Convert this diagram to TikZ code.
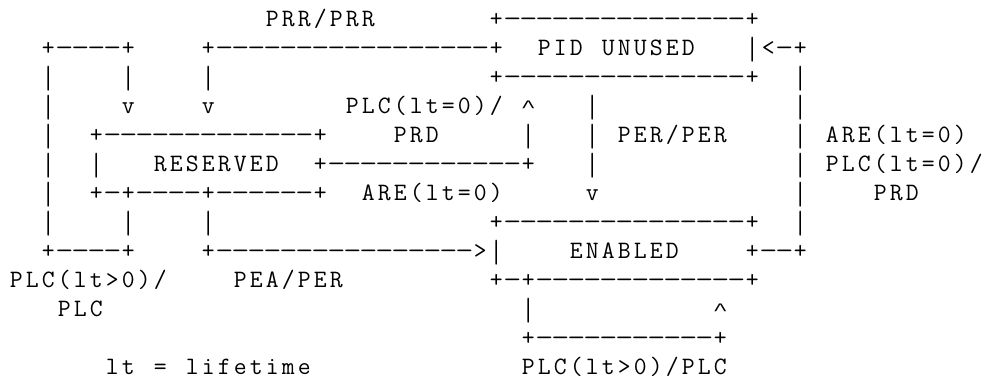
\documentclass[tikz,border=0pt]{standalone}
\usepackage{graphicx}
\usepackage{fontspec}
\newfontfamily\caretfont{Liberation Mono}
\makeatletter
\def\ce@bar{|}
\def\ce@dash{-}
\def\ce@caret{\textasciicircum}
\newcommand\ceglyph{%
  \ifx\ce@tok\ce@bar
    \raisebox{-6.3pt}{\resizebox*{\width}{25pt}{\raisebox{\depth}{|}}}%
  \else\ifx\ce@tok\ce@dash
    \scalebox{1.4}[1]{-}%
  \else\ifx\ce@tok\ce@caret
    \raisebox{1.5pt}{\scalebox{1}[0.7]{\caretfont\textasciicircum}}%
  \else
    \ce@tok
  \fi\fi\fi}
\newcommand\cells[1]{\@tfor\ce@tok:=#1\do{\hbox to 16pt{\hss\ceglyph\hss}}}
\makeatother
\begin{document}
\begin{tikzpicture}[x=16pt,y=-29pt,
  asc/.style={anchor=base west,inner sep=0pt,outer sep=0pt,
    font=\fontsize{25}{29}\selectfont\ttfamily}]
\useasboundingbox[fill=white] (0pt,0pt) rectangle (982pt,385pt);
\begin{scope}[shift={(8.3pt,387.3pt)}]
% row 1
\node[asc] (r1a) at (16,1) {\cells{PRR/PRR}};
\node[asc] (r1b) at (30,1) {\cells{+---------------+}};
% row 2
\node[asc] (r2a) at (2,2) {\cells{+----+}};
\node[asc] (r2b) at (12,2) {\cells{+-----------------+}};
\node[asc] (r2c) at (33,2) {\cells{PID}};
\node[asc] (r2d) at (37,2) {\cells{UNUSED}};
\node[asc] (r2e) at (46,2) {\cells{|<-+}};
% row 3
\node[asc] (r3a) at (2,3) {\cells{|}};
\node[asc] (r3b) at (7,3) {\cells{|}};
\node[asc] (r3c) at (12,3) {\cells{|}};
\node[asc] (r3d) at (30,3) {\cells{+---------------+}};
\node[asc] (r3e) at (49,3) {\cells{|}};
% row 4
\node[asc] (r4a) at (2,4) {\cells{|}};
\node[asc] (r4b) at (7,4) {\cells{v}};
\node[asc] (r4c) at (12,4) {\cells{v}};
\node[asc] (r4d) at (21,4) {\cells{PLC(lt=0)/}};
\node[asc] (r4e) at (32,4) {\cells{\textasciicircum}};
\node[asc] (r4f) at (36,4) {\cells{|}};
\node[asc] (r4g) at (49,4) {\cells{|}};
% row 5
\node[asc] (r5a) at (2,5) {\cells{|}};
\node[asc] (r5b) at (5,5) {\cells{+-------------+}};
\node[asc] (r5c) at (24,5) {\cells{PRD}};
\node[asc] (r5d) at (32,5) {\cells{|}};
\node[asc] (r5e) at (36,5) {\cells{|}};
\node[asc] (r5f) at (38,5) {\cells{PER/PER}};
\node[asc] (r5g) at (49,5) {\cells{|}};
\node[asc] (r5h) at (51,5) {\cells{ARE(lt=0)}};
% row 6
\node[asc] (r6a) at (2,6) {\cells{|}};
\node[asc] (r6b) at (5,6) {\cells{|}};
\node[asc] (r6c) at (9,6) {\cells{RESERVED}};
\node[asc] (r6d) at (19,6) {\cells{+------------+}};
\node[asc] (r6e) at (36,6) {\cells{|}};
\node[asc] (r6f) at (49,6) {\cells{|}};
\node[asc] (r6g) at (51,6) {\cells{PLC(lt=0)/}};
% row 7
\node[asc] (r7a) at (2,7) {\cells{|}};
\node[asc] (r7b) at (5,7) {\cells{+-+----+------+}};
\node[asc] (r7c) at (22,7) {\cells{ARE(lt=0)}};
\node[asc] (r7d) at (36,7) {\cells{v}};
\node[asc] (r7e) at (49,7) {\cells{|}};
\node[asc] (r7f) at (54,7) {\cells{PRD}};
% row 8
\node[asc] (r8a) at (2,8) {\cells{|}};
\node[asc] (r8b) at (7,8) {\cells{|}};
\node[asc] (r8c) at (12,8) {\cells{|}};
\node[asc] (r8d) at (30,8) {\cells{+---------------+}};
\node[asc] (r8e) at (49,8) {\cells{|}};
% row 9
\node[asc] (r9a) at (2,9) {\cells{+----+}};
\node[asc] (r9b) at (12,9) {\cells{+---------------->|}};
\node[asc] (r9c) at (35,9) {\cells{ENABLED}};
\node[asc] (r9d) at (46,9) {\cells{+--+}};
% row 10
\node[asc] (r10a) at (0,10) {\cells{PLC(lt>0)/}};
\node[asc] (r10b) at (14,10) {\cells{PEA/PER}};
\node[asc] (r10c) at (30,10) {\cells{+-+-------------+}};
% row 11
\node[asc] (r11a) at (3,11) {\cells{PLC}};
\node[asc] (r11b) at (32,11) {\cells{|}};
\node[asc] (r11c) at (44,11) {\cells{\textasciicircum}};
% row 12
\node[asc] (r12a) at (32,12) {\cells{+-----------+}};
% row 13
\node[asc] (r13a) at (6,13) {\cells{lt}};
\node[asc] (r13b) at (9,13) {\cells{=}};
\node[asc] (r13c) at (11,13) {\cells{lifetime}};
\node[asc] (r13d) at (32,13) {\cells{PLC(lt>0)/PLC}};
\end{scope}
\end{tikzpicture}
\end{document}
